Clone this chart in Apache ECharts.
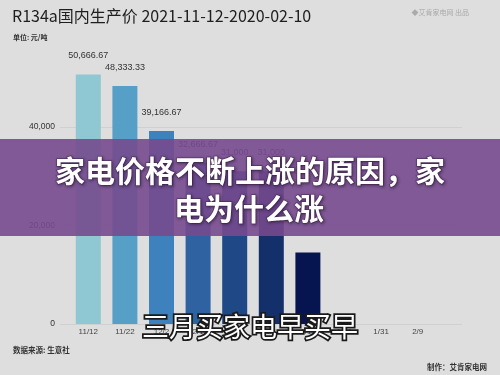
<!DOCTYPE html>
<html>
<head>
<meta charset="utf-8">
<script src="https://cdn.jsdelivr.net/npm/echarts@6/dist/echarts.min.js"></script>
<style>
html,body{margin:0;padding:0;background:#dedede;}
#c{width:500px;height:375px;}
</style>
</head>
<body>
<div id="c"></div>
<script>
// ---- data ----
const categories = ['11/12','11/22','12/2','12/12','12/22','1/1','1/11','1/21','1/31','2/9'];
const prices = [50666.67, 48333.33, 39166.67, 32666.67, 31000, 31000, 14500, null, null, null];
const showValueLabel = [true, true, true, true, true, true, false, false, false, false];
const yTicks = [0, 20000, 40000, 60000];

// ---- style ----
const barColors = ['#8fc8d2','#56a0c8','#3e82bd','#2e62a0','#1f4886','#13306a','#061450','#061450','#061450','#061450'];
const FONT = '"Liberation Sans", "Noto Sans CJK SC", sans-serif';
const CJK = '"Noto Sans CJK SC", "Liberation Sans", sans-serif';

function fmt(v){
  const isInt = Math.abs(v - Math.round(v)) < 1e-6;
  return v.toLocaleString('en-US', {minimumFractionDigits: isInt ? 0 : 2, maximumFractionDigits: isInt ? 0 : 2});
}

const chart = echarts.init(document.getElementById('c'), null, {renderer:'canvas'});
const yMin = yTicks[0], yMax = yTicks[yTicks.length-1], yStep = yTicks[1]-yTicks[0];

chart.setOption({
  backgroundColor:'#dedede',
  animation:false,
  title:[
    {text:'R134a国内生产价 2021-11-12-2020-02-10', left:7, top:3,
     textStyle:{fontFamily:CJK, fontSize:16, fontWeight:'normal', color:'#1e1e1e'}},
    {text:'单位: 元/吨', left:8, top:29,
     textStyle:{fontFamily:CJK, fontSize:7, fontWeight:'bold', color:'#333'}},
    {text:'◆艾肯家电网 出品', right:26, top:4,
     textStyle:{fontFamily:CJK, fontSize:7, fontWeight:'normal', color:'#aaa'}},
    {text:'数据来源: 生意社', left:8, top:341,
     textStyle:{fontFamily:CJK, fontSize:7.5, fontWeight:'bold', color:'#333'}},
    {text:'制作：艾肯家电网', right:8, top:358,
     textStyle:{fontFamily:CJK, fontSize:7.5, fontWeight:'bold', color:'#333'}}
  ],
  grid:[
    {left:60, right:38, top:28.5, bottom:51},
    {left:70, right:64, top:28.5, bottom:51}
  ],
  xAxis:[
    {type:'value', gridIndex:0, min:0, max:1, show:false},
    {type:'category', gridIndex:1, data:categories,
     axisLine:{show:false}, axisTick:{show:false},
     axisLabel:{fontFamily:FONT, fontSize:8, color:'#444', margin:4, interval:0}}
  ],
  yAxis:[
    {type:'value', gridIndex:0, min:yMin, max:yMax, interval:yStep,
     axisLine:{show:false}, axisTick:{show:false},
     axisLabel:{fontFamily:FONT, fontSize:8.5, color:'#333', margin:5, showMaxLabel:false,
       formatter:v=>fmt(v)},
     splitLine:{show:true, showMaxLine:false, lineStyle:{color:'#d0d0d0', width:1}}},
    {type:'value', gridIndex:1, min:yMin, max:yMax, interval:yStep, show:false,
     splitLine:{show:false}}
  ],
  series:[{
    type:'bar', xAxisIndex:1, yAxisIndex:1, barWidth:25,
    data: prices.map((v,i)=>({
      value:v,
      itemStyle:{color:barColors[i]},
      label:{show:showValueLabel[i] && v!=null}
    })),
    label:{position:'top', distance:14, fontFamily:FONT, fontSize:9, color:'#333',
      formatter:p=>fmt(p.value)}
  }],
  graphic:[
    {type:'rect', left:0, top:139, z:100,
     shape:{width:500, height:97},
     style:{fill:'rgba(118,74,142,0.9)'}},
    {type:'text', x:250, y:171, z:101,
     style:{text:'家电价格不断上涨的原因，家', fill:'#fff', font:'bold 30px "Noto Sans CJK SC", sans-serif',
       align:'center', verticalAlign:'middle', stroke:'rgba(60,30,70,0.5)', lineWidth:1.5,
       textShadowColor:'rgba(40,20,50,0.6)', textShadowBlur:3, textShadowOffsetX:1, textShadowOffsetY:1}},
    {type:'text', x:249, y:209, z:101,
     style:{text:'电为什么涨', fill:'#fff', font:'bold 30px "Noto Sans CJK SC", sans-serif',
       align:'center', verticalAlign:'middle', stroke:'rgba(60,30,70,0.5)', lineWidth:1.5,
       textShadowColor:'rgba(40,20,50,0.6)', textShadowBlur:3, textShadowOffsetX:1, textShadowOffsetY:1}},
    {type:'text', x:250, y:327, z:101,
     style:{text:'三月买家电早买早', fill:'#fff', font:'27px "Noto Sans CJK SC", sans-serif',
       align:'center', verticalAlign:'middle', stroke:'#1a1a1a', lineWidth:3.5}}
  ]
});
</script>
</body>
</html>
